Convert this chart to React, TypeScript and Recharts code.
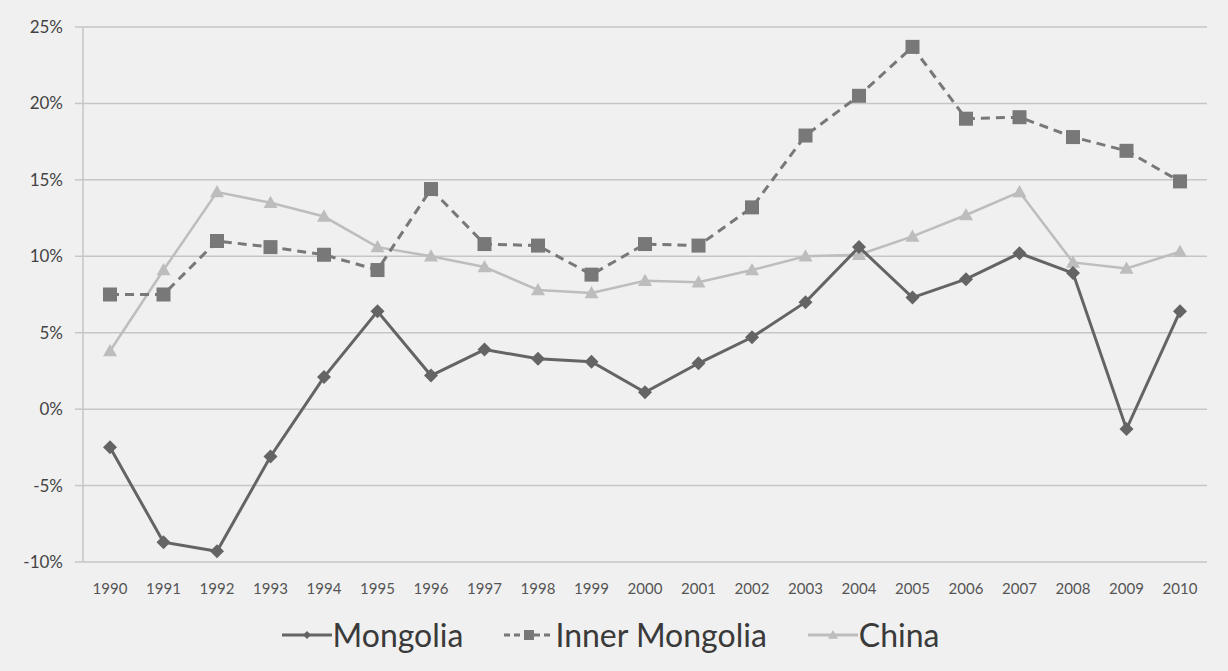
import { LineChart, Line, XAxis, YAxis, CartesianGrid, Legend } from "recharts"

const years = [
  "1990", "1991", "1992", "1993", "1994", "1995", "1996", "1997", "1998", "1999", "2000",
  "2001", "2002", "2003", "2004", "2005", "2006", "2007", "2008", "2009", "2010",
]
const mongolia = [-2.5, -8.7, -9.3, -3.1, 2.1, 6.4, 2.2, 3.9, 3.3, 3.1, 1.1, 3.0, 4.7, 7.0, 10.6, 7.3, 8.5, 10.2, 8.9, -1.3, 6.4]
const innerMongolia = [7.5, 7.5, 11.0, 10.6, 10.1, 9.1, 14.4, 10.8, 10.7, 8.8, 10.8, 10.7, 13.2, 17.9, 20.5, 23.7, 19.0, 19.1, 17.8, 16.9, 14.9]
const china = [3.8, 9.1, 14.2, 13.5, 12.6, 10.6, 10.0, 9.3, 7.8, 7.6, 8.4, 8.3, 9.1, 10.0, 10.1, 11.3, 12.7, 14.2, 9.6, 9.2, 10.3]
const yTicks = [-10, -5, 0, 5, 10, 15, 20, 25]

const data = years.map((year, i) => ({
  year,
  mongolia: mongolia[i],
  inner: innerMongolia[i],
  china: china[i],
}))

const C_MON = "#646464"
const C_INNER = "#787878"
const C_CHINA = "#bdbdbd"
const GRID = "#c6c6c6"
const FONT = "Lato, 'Open Sans', sans-serif"

const Diamond = (props: any) => {
  const { cx, cy, size = 6, fill } = props
  if (cx == null || cy == null) return null
  return <path d={`M${cx},${cy - size}L${cx + size},${cy}L${cx},${cy + size}L${cx - size},${cy}Z`} fill={fill} />
}
const Square = (props: any) => {
  const { cx, cy, size = 7, fill } = props
  if (cx == null || cy == null) return null
  return <rect x={cx - size} y={cy - size} width={size * 2} height={size * 2} fill={fill} />
}
const Triangle = (props: any) => {
  const { cx, cy, size = 7, fill } = props
  if (cx == null || cy == null) return null
  return <path d={`M${cx},${cy - size}L${cx + size},${cy + size * 0.75}L${cx - size},${cy + size * 0.75}Z`} fill={fill} />
}

const legendItems = [
  { label: "Mongolia", color: C_MON, dash: undefined, Marker: Diamond, size: 4 },
  { label: "Inner Mongolia", color: C_INNER, dash: "6 4", Marker: Square, size: 5 },
  { label: "China", color: C_CHINA, dash: undefined, Marker: Triangle, size: 5 },
]

const CustomLegend = () => (
  <div style={{ display: "flex", justifyContent: "center", gap: 40, fontFamily: FONT, fontSize: 32, color: "#3a3a3a", lineHeight: "32px" }}>
    {legendItems.map((it) => (
      <div key={it.label} style={{ display: "flex", alignItems: "center" }}>
        <svg width={52} height={20}>
          <line x1={1} y1={10} x2={51} y2={10} stroke={it.color} strokeWidth={3} strokeDasharray={it.dash} />
          <it.Marker cx={26} cy={10} size={it.size} fill={it.color} />
        </svg>
        <span>{it.label}</span>
      </div>
    ))}
  </div>
)

export default function App() {
  return (
    <div style={{ position: "absolute", left: 0, top: 0, width: 1228, height: 671, background: "#f0f0f0" }}>
      <LineChart width={1228} height={671} data={data} margin={{ top: 27, right: 21, left: 13, bottom: 18 }}>
        <CartesianGrid vertical={false} stroke={GRID} strokeWidth={1.5} />
        <XAxis
          dataKey="year"
          padding={{ left: 27, right: 27 }}
          height={57}
          axisLine={false}
          tickLine={false}
          tick={{ fontSize: 15, fill: "#555", fontFamily: FONT }}
          tickMargin={15}
          interval={0}
        />
        <YAxis
          domain={[-10, 25]}
          ticks={yTicks}
          width={70}
          tickFormatter={(v) => `${v}%`}
          axisLine={{ stroke: GRID, strokeWidth: 1.5 }}
          tickLine={{ stroke: GRID, strokeWidth: 1.5 }}
          tickSize={8}
          tickMargin={12}
          tick={{ fontSize: 17, fill: "#444", fontFamily: FONT }}
        />
        <Legend verticalAlign="bottom" height={34} content={<CustomLegend />} />
        <Line
          dataKey="china"
          name="China"
          stroke={C_CHINA}
          strokeWidth={2.5}
          dot={<Triangle size={7} fill={C_CHINA} />}
          activeDot={false}
          isAnimationActive={false}
        />
        <Line
          dataKey="inner"
          name="Inner Mongolia"
          stroke={C_INNER}
          strokeWidth={3}
          strokeDasharray="9 6"
          dot={<Square size={7} fill={C_INNER} />}
          activeDot={false}
          isAnimationActive={false}
        />
        <Line
          dataKey="mongolia"
          name="Mongolia"
          stroke={C_MON}
          strokeWidth={3}
          dot={<Diamond size={7} fill={C_MON} />}
          activeDot={false}
          isAnimationActive={false}
        />
      </LineChart>
    </div>
  )
}
